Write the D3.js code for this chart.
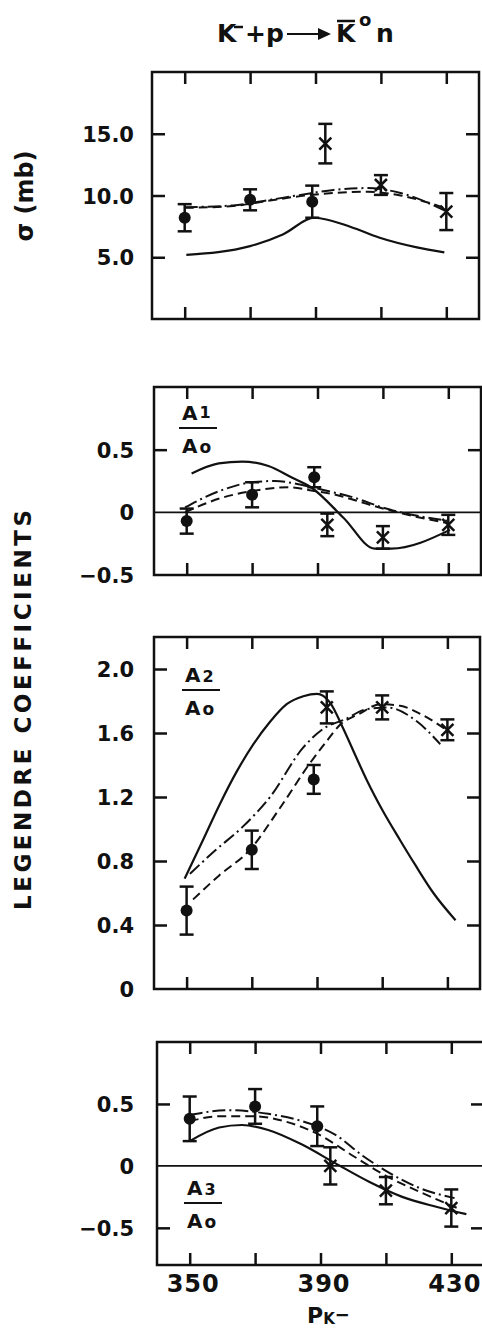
<!DOCTYPE html>
<html>
<head>
<meta charset="utf-8">
<script src="https://cdn.jsdelivr.net/npm/d3@7"></script>
<style>
  body { margin: 0; background: #fff; }
  text { font-family: "DejaVu Sans", sans-serif; font-weight: bold; fill: #111; }
</style>
</head>
<body>
<div id="chart"></div>
<script>
// momentum values of the measured points
var dotP = [350, 370, 389];
var crossP = [393, 410, 430];
var xTicks = [350, 370, 390, 410, 430];
var xTickLabels = [350, 390, 430];

// panel 1 : total cross section (mb)
var sigmaDot = [8.2, 9.65, 9.5];
var sigmaDotErr = [1.1, 0.85, 1.3];
var sigmaCross = [14.2, 10.85, 8.7];
var sigmaCrossErr = [1.6, 0.8, 1.5];
var sigmaSolid = [[350.5, 5.2], [370, 5.9], [380, 6.85], [389.7, 8.2], [400.8, 7.45], [409.4, 6.6], [421, 5.8], [429.4, 5.4]];
var sigmaDashed = [[350, 9.0], [364.8, 9.15], [375, 9.55], [385.4, 9.95], [395.5, 10.2], [406, 10.3], [416, 10.0], [429.4, 9.0]];
var sigmaDashDot = [[350, 9.05], [364.8, 9.2], [375, 9.6], [385.4, 10.05], [395.5, 10.45], [406, 10.6], [416, 10.2], [429.4, 8.8]];
var sigmaTicks = [5, 10, 15];

// panel 2 : A1/A0
var a1Dot = [-0.07, 0.14, 0.28];
var a1DotErr = [0.1, 0.1, 0.08];
var a1Cross = [-0.1, -0.2, -0.1];
var a1CrossErr = [0.09, 0.09, 0.08];
var a1Solid = [[351.5, 0.31], [359.8, 0.39], [367, 0.405], [375, 0.37], [382, 0.28], [388, 0.2], [398, -0.045], [407.5, -0.29], [412.5, -0.29], [430.5, -0.14]];
var a1Dashed = [[349.5, 0.0], [360, 0.11], [370, 0.17], [381, 0.2], [389, 0.17], [395.5, 0.14], [406, 0.06], [416, -0.01], [430.5, -0.09]];
var a1DashDot = [[349.5, 0.04], [360, 0.17], [370, 0.24], [377, 0.25], [385, 0.22], [391.5, 0.18], [400.8, 0.12], [411, 0.03], [421, -0.03], [430.5, -0.07]];
var a1Ticks = [0.5];

// panel 3 : A2/A0
var a2Dot = [0.49, 0.87, 1.31];
var a2DotErr = [0.15, 0.12, 0.09];
var a2Cross = [1.76, 1.76, 1.62];
var a2CrossErr = [0.1, 0.075, 0.065];
var a2Solid = [[349.4, 0.69], [355, 0.93], [360.3, 1.16], [365.4, 1.36], [370.5, 1.53], [375.6, 1.67], [380.7, 1.78], [385.8, 1.83], [390, 1.845], [394, 1.79], [398, 1.63], [402, 1.45], [405.4, 1.3], [410, 1.12], [415.5, 0.93], [420, 0.78], [425.7, 0.6], [432.5, 0.43]];
var a2Dashed = [[352, 0.56], [360, 0.71], [369.4, 0.87], [378.6, 1.13], [387.8, 1.41], [393, 1.55], [397, 1.65], [403, 1.72], [409.4, 1.78], [415.5, 1.77], [422.6, 1.71], [430.3, 1.61]];
var a2DashDot = [[351, 0.72], [359, 0.87], [367, 1.01], [375.6, 1.2], [385.8, 1.51], [393, 1.64], [398, 1.68], [405.4, 1.75], [411.5, 1.76], [420.8, 1.67], [427.8, 1.53]];
var a2Ticks = [0.4, 0.8, 1.2, 1.6, 2.0];

// panel 4 : A3/A0
var a3Dot = [0.38, 0.48, 0.32];
var a3DotErr = [0.18, 0.14, 0.16];
var a3Cross = [0.0, -0.2, -0.34];
var a3CrossErr = [0.15, 0.11, 0.15];
var a3Solid = [[350, 0.2], [359, 0.31], [366, 0.33], [374, 0.29], [384.5, 0.17], [394.6, 0.02], [405, -0.13], [415, -0.25], [425.4, -0.33], [434.6, -0.39]];
var a3Dashed = [[350, 0.36], [359, 0.4], [370, 0.4], [379, 0.36], [389.7, 0.25], [400, 0.08], [410, -0.08], [420.4, -0.21], [432.7, -0.35]];
var a3DashDot = [[350, 0.41], [362, 0.45], [374, 0.42], [384.5, 0.36], [394.6, 0.25], [403, 0.08], [410, -0.04], [420.4, -0.18], [431, -0.26]];
var a3Ticks = [-0.5, 0.5];

var width = 482, height = 1331;

var svg = d3.select("#chart").append("svg")
    .attr("width", width)
    .attr("height", height);

var panels = [
    {left: 152, right: 479, top: 72, bottom: 319, domain: [0, 20], ticks: sigmaTicks, fmt: d3.format(".1f"),
     dot: sigmaDot, dotErr: sigmaDotErr, cross: sigmaCross, crossErr: sigmaCrossErr,
     solid: sigmaSolid, dashed: sigmaDashed, dashdot: sigmaDashDot, zero: false},
    {left: 154, right: 481, top: 387, bottom: 575, domain: [-0.5, 1.0], ticks: a1Ticks, labels: [0.5, 0, -0.5],
     dot: a1Dot, dotErr: a1DotErr, cross: a1Cross, crossErr: a1CrossErr,
     solid: a1Solid, dashed: a1Dashed, dashdot: a1DashDot, zero: true, frac: "1", fracPos: [182, 420]},
    {left: 154, right: 480, top: 637, bottom: 989, domain: [0, 2.2], ticks: a2Ticks, labels: [0, 0.4, 0.8, 1.2, 1.6, 2.0],
     dot: a2Dot, dotErr: a2DotErr, cross: a2Cross, crossErr: a2CrossErr,
     solid: a2Solid, dashed: a2Dashed, dashdot: a2DashDot, zero: false, frac: "2", fracPos: [185, 682]},
    {left: 157, right: 484, top: 1042, bottom: 1265, domain: [-0.8, 1.0], ticks: a3Ticks, labels: [-0.5, 0, 0.5],
     dot: a3Dot, dotErr: a3DotErr, cross: a3Cross, crossErr: a3CrossErr,
     solid: a3Solid, dashed: a3Dashed, dashdot: a3DashDot, zero: true, frac: "3", fracPos: [187, 1195], xlabels: true}
];

function fmtTick(d) {
    if (d === 0) return "0";
    return (d < 0 ? "\u2212" : "") + Math.abs(d).toFixed(1);
}

panels.forEach(function(p) {
    var g = svg.append("g");
    var x = d3.scaleLinear().domain([340, 440]).range([p.left, p.right]);
    var y = d3.scaleLinear().domain(p.domain).range([p.bottom, p.top]);

    // inward ticks on all four sides
    var bottomAxis = d3.axisBottom(x).tickValues(xTicks).tickSize(-12).tickSizeOuter(0).tickFormat("");
    var topAxis = d3.axisTop(x).tickValues(xTicks).tickSize(-12).tickSizeOuter(0).tickFormat("");
    var leftAxis = d3.axisLeft(y).tickValues(p.ticks).tickSize(-13).tickSizeOuter(0).tickFormat("");
    var rightAxis = d3.axisRight(y).tickValues(p.ticks).tickSize(-13).tickSizeOuter(0).tickFormat("");

    [[bottomAxis, 0, p.bottom], [topAxis, 0, p.top], [leftAxis, p.left, 0], [rightAxis, p.right, 0]].forEach(function(a) {
        var ag = g.append("g")
            .attr("transform", `translate(${a[1]}, ${a[2]})`)
            .call(a[0]);
        ag.select(".domain").remove();
        ag.selectAll("line").attr("stroke", "#111").attr("stroke-width", 2.5);
    });

    // tick labels on the left
    var labelVals = p.labels || p.ticks;
    var labelAxis = d3.axisLeft(y).tickValues(labelVals).tickSize(0)
        .tickPadding(p.left - 134).tickFormat(p.fmt ? p.fmt : fmtTick);
    var lg = g.append("g")
        .attr("transform", `translate(${p.left}, 0)`)
        .call(labelAxis);
    lg.select(".domain").remove();
    lg.selectAll("text")
        .attr("font-size", 21)
        .attr("font-family", "DejaVu Sans, sans-serif")
        .attr("font-weight", "bold")
        .attr("fill", "#111")
        .attr("dy", "0.36em");

    if (p.xlabels) {
        var xl = d3.axisBottom(x).tickValues(xTickLabels).tickSize(0).tickPadding(10).tickFormat(d3.format("d"));
        var xg = g.append("g")
            .attr("transform", `translate(0, ${p.bottom})`)
            .call(xl);
        xg.select(".domain").remove();
        xg.selectAll("text")
            .attr("font-size", 24)
            .attr("letter-spacing", 1)
            .attr("font-family", "DejaVu Sans, sans-serif")
            .attr("font-weight", "bold")
            .attr("fill", "#111")
            .attr("dx", 3);
    }

    // frame
    g.append("rect")
        .attr("x", p.left)
        .attr("y", p.top)
        .attr("width", p.right - p.left)
        .attr("height", p.bottom - p.top)
        .attr("fill", "none")
        .attr("stroke", "#111")
        .attr("stroke-width", 2.5);

    if (p.zero) {
        g.append("line")
            .attr("x1", p.left).attr("x2", p.right)
            .attr("y1", y(0)).attr("y2", y(0))
            .attr("stroke", "#111")
            .attr("stroke-width", 1.8);
    }

    var line = d3.line()
        .x(d => x(d[0]))
        .y(d => y(d[1]))
        .curve(d3.curveMonotoneX);

    g.append("path").attr("d", line(p.solid))
        .attr("fill", "none").attr("stroke", "#111").attr("stroke-width", 2.2);
    g.append("path").attr("d", line(p.dashed))
        .attr("fill", "none").attr("stroke", "#111").attr("stroke-width", 2)
        .attr("stroke-dasharray", "9,5");
    g.append("path").attr("d", line(p.dashdot))
        .attr("fill", "none").attr("stroke", "#111").attr("stroke-width", 2)
        .attr("stroke-dasharray", "13,4,2,4");

    // error bars
    function errBars(ps, vals, errs) {
        ps.forEach(function(pv, i) {
            var cx = x(pv);
            var y1 = y(vals[i] + errs[i]), y2 = y(vals[i] - errs[i]);
            g.append("line").attr("x1", cx).attr("x2", cx).attr("y1", y1).attr("y2", y2)
                .attr("stroke", "#111").attr("stroke-width", 2.5);
            [y1, y2].forEach(function(yy) {
                g.append("line").attr("x1", cx - 7).attr("x2", cx + 7).attr("y1", yy).attr("y2", yy)
                    .attr("stroke", "#111").attr("stroke-width", 2.5);
            });
        });
    }
    errBars(dotP, p.dot, p.dotErr);
    errBars(crossP, p.cross, p.crossErr);

    p.dot.forEach(function(v, i) {
        g.append("circle")
            .attr("cx", x(dotP[i]))
            .attr("cy", y(v))
            .attr("r", 6)
            .attr("fill", "#111");
    });

    p.cross.forEach(function(v, i) {
        var cx = x(crossP[i]), cy = y(v), s = 6;
        g.append("path")
            .attr("d", `M${cx - s},${cy - s}L${cx + s},${cy + s}M${cx - s},${cy + s}L${cx + s},${cy - s}`)
            .attr("stroke", "#111")
            .attr("stroke-width", 2.5)
            .attr("fill", "none");
    });

    // A_n / A_0 label
    if (p.frac) {
        var fx = p.fracPos[0], fy = p.fracPos[1];
        var num = g.append("text").attr("x", fx).attr("y", fy).attr("font-size", 20);
        num.append("tspan").text("A");
        num.append("tspan").attr("font-size", 16).attr("dx", 2).attr("dy", p.frac === "1" ? -2 : 0).text(p.frac);
        g.append("line")
            .attr("x1", fx - 3).attr("x2", fx + 35)
            .attr("y1", fy + 8).attr("y2", fy + 8)
            .attr("stroke", "#111").attr("stroke-width", 2.2);
        var den = g.append("text").attr("x", fx).attr("y", fy + 33).attr("font-size", 20);
        den.append("tspan").text("A");
        den.append("tspan").attr("font-size", 17).attr("dx", 2).text("o");
    }
});

// title  K⁻ + p → K̄⁰ n
var title = svg.append("g").attr("font-size", 25);
title.append("text").attr("x", 217).attr("y", 42).text("K");
title.append("line").attr("x1", 234).attr("x2", 243).attr("y1", 27).attr("y2", 27)
    .attr("stroke", "#111").attr("stroke-width", 2.5);
title.append("text").attr("x", 245).attr("y", 42).text("+p");
title.append("line").attr("x1", 287).attr("x2", 324).attr("y1", 34).attr("y2", 34)
    .attr("stroke", "#111").attr("stroke-width", 2.2);
title.append("path").attr("d", "M318,28L331,34L318,40Z").attr("fill", "#111");
title.append("text").attr("x", 336).attr("y", 42).text("K");
title.append("line").attr("x1", 337).attr("x2", 355).attr("y1", 21).attr("y2", 21)
    .attr("stroke", "#111").attr("stroke-width", 2.5);
title.append("text").attr("x", 359).attr("y", 26).attr("font-size", 18).text("o");
title.append("text").attr("x", 376).attr("y", 42).text("n");

// axis titles
svg.append("text")
    .attr("transform", "translate(33, 196) rotate(-90)")
    .attr("text-anchor", "middle")
    .attr("font-size", 24)
    .text("\u03c3 (mb)");

svg.append("text")
    .attr("transform", "translate(31, 710) rotate(-90)")
    .attr("text-anchor", "middle")
    .attr("font-size", 23)
    .attr("textLength", 400)
    .attr("lengthAdjust", "spacing")
    .text("LEGENDRE COEFFICIENTS");

var pk = svg.append("text").attr("x", 307).attr("y", 1323).attr("font-size", 22);
pk.append("tspan").text("P");
pk.append("tspan").attr("font-size", 15).attr("dy", 1).text("K");
pk.append("tspan").attr("font-size", 18).attr("dy", -3).text("\u2212");
</script>
</body>
</html>
